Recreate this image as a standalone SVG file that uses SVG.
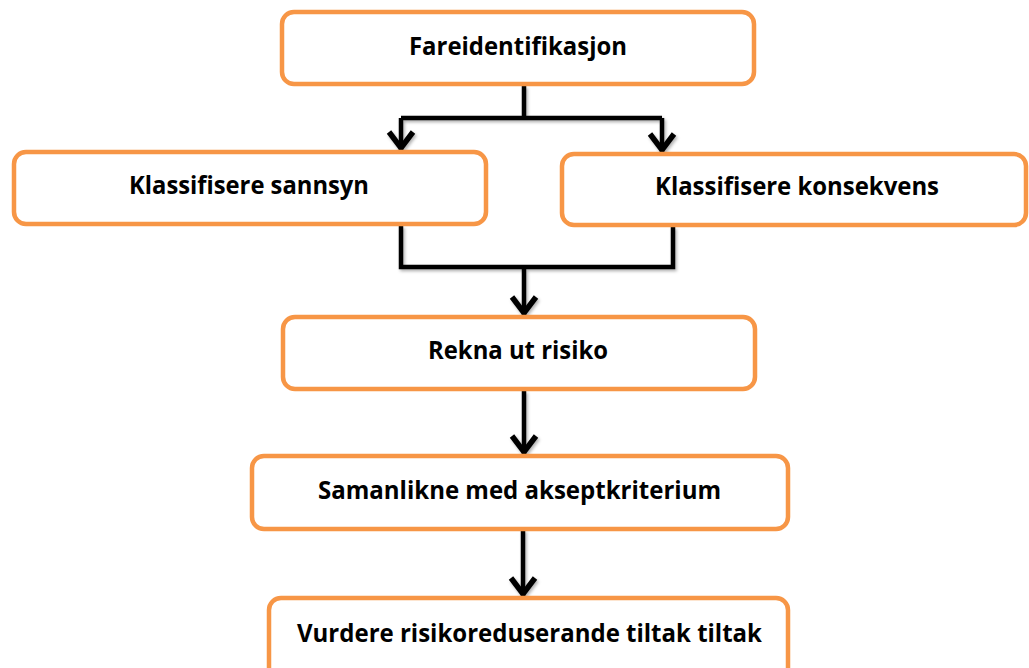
<svg xmlns="http://www.w3.org/2000/svg" width="1029" height="668" viewBox="0 0 1029 668">
  <style>
    .box { fill: #ffffff; stroke: #F79646; stroke-width: 4.5; }
    .label { font-family: "Open Sans", "Liberation Sans", sans-serif; font-weight: 700; font-size: 25px; fill: #000000; text-anchor: middle; }
    .conn { fill: none; stroke: #000000; stroke-width: 4.5; stroke-linejoin: miter; stroke-linecap: butt; }
  </style>
  <defs>
    <filter id="shadow" x="-20%" y="-20%" width="140%" height="140%">
      <feDropShadow dx="1.5" dy="2" stdDeviation="1.5" flood-color="#000000" flood-opacity="0.3"/>
    </filter>
    <marker id="arrow" markerUnits="userSpaceOnUse" viewBox="-24 -18 28 36" markerWidth="28" markerHeight="36" refX="0" refY="0" orient="auto" overflow="visible">
      <path d="M-18,-12 L-2,0 L-18,12" fill="none" stroke="#000000" stroke-width="5.5" stroke-linejoin="miter"/>
    </marker>
  </defs>
  <rect width="1029" height="668" fill="#ffffff"/>

  <g id="connectors" filter="url(#shadow)">
    <path class="conn" d="M524,86 V118"/>
    <path class="conn" d="M401,118 H662"/>
    <path class="conn" d="M401,118 V150" marker-end="url(#arrow)"/>
    <path class="conn" d="M662,118 V152" marker-end="url(#arrow)"/>
    <path class="conn" d="M401,226 V267 H673 V227"/>
    <path class="conn" d="M524,267 V315" marker-end="url(#arrow)"/>
    <path class="conn" d="M524,391 V454" marker-end="url(#arrow)"/>
    <path class="conn" d="M523,530 V596" marker-end="url(#arrow)"/>
  </g>

  <g id="node-fareidentifikasjon">
    <rect class="box" x="282" y="12" width="472" height="72" rx="12"/>
    <text class="label" x="518" y="55" textLength="218" lengthAdjust="spacingAndGlyphs">Fareidentifikasjon</text>
  </g>
  <g id="node-sannsyn">
    <rect class="box" x="14" y="152" width="472" height="72" rx="12"/>
    <text class="label" x="249" y="194" textLength="240" lengthAdjust="spacingAndGlyphs">Klassifisere sannsyn</text>
  </g>
  <g id="node-konsekvens">
    <rect class="box" x="562" y="154" width="464" height="71" rx="12"/>
    <text class="label" x="797" y="195" textLength="284" lengthAdjust="spacingAndGlyphs">Klassifisere konsekvens</text>
  </g>
  <g id="node-risiko">
    <rect class="box" x="283" y="317" width="472" height="72" rx="12"/>
    <text class="label" x="518" y="359" textLength="180" lengthAdjust="spacingAndGlyphs">Rekna ut risiko</text>
  </g>
  <g id="node-samanlikne">
    <rect class="box" x="252" y="456" width="536" height="73" rx="12"/>
    <text class="label" x="519.5" y="499" textLength="403" lengthAdjust="spacingAndGlyphs">Samanlikne med akseptkriterium</text>
  </g>
  <g id="node-vurdere">
    <rect class="box" x="269" y="598" width="519" height="90" rx="12"/>
    <text class="label" x="529.5" y="642" textLength="465" lengthAdjust="spacingAndGlyphs">Vurdere risikoreduserande tiltak tiltak</text>
  </g>
</svg>
